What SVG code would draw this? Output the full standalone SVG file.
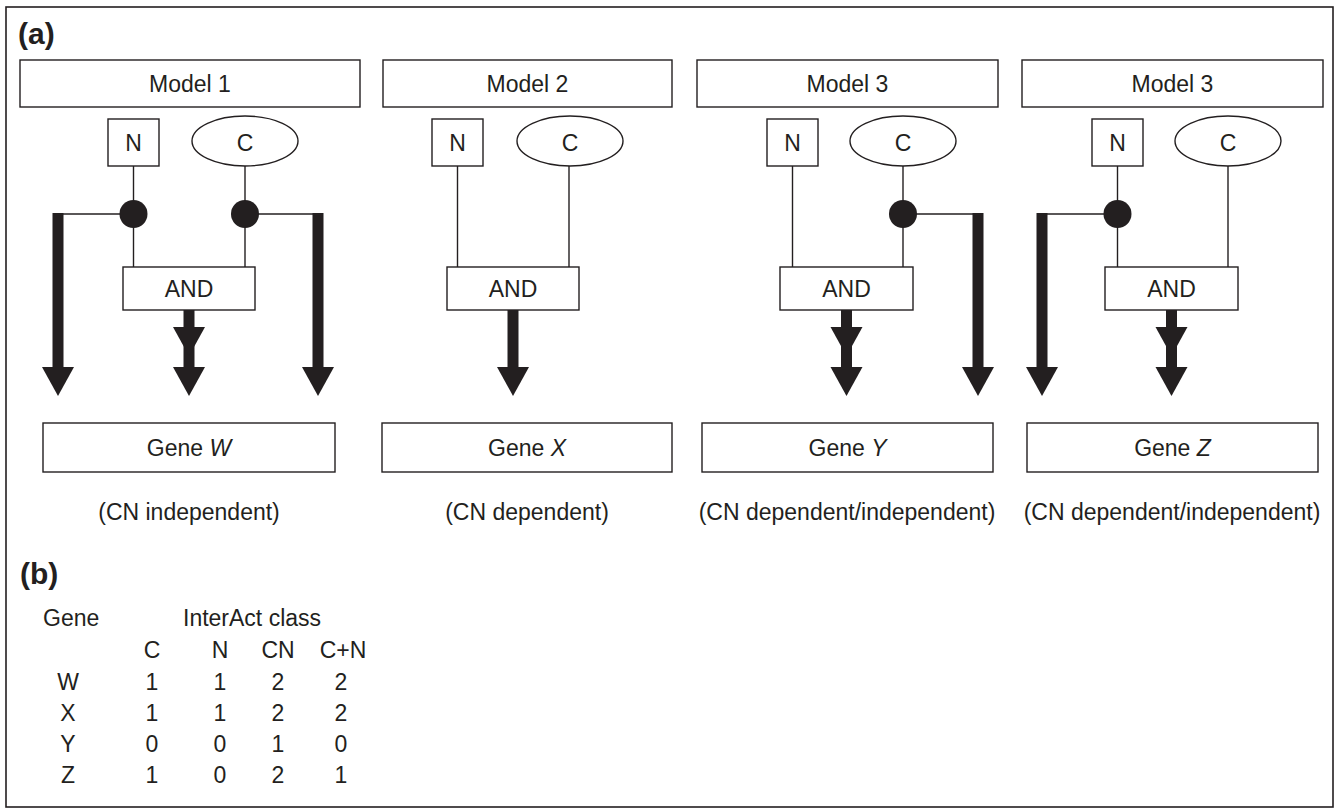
<svg xmlns="http://www.w3.org/2000/svg" width="1336" height="810" viewBox="0 0 1336 810">
<defs>
<style>
.frame{fill:#fff;stroke:#231f20;stroke-width:1.6}
.box{fill:#fff;stroke:#231f20;stroke-width:1.4}
.thin{fill:none;stroke:#231f20;stroke-width:1.4}
.arr{fill:none;stroke:#231f20;stroke-width:11;marker-end:url(#ah)}
.arr2{fill:none;stroke:#231f20;stroke-width:11;marker-mid:url(#ah);marker-end:url(#ah)}
.dot{fill:#231f20}
text{font-family:"Liberation Sans",Arial,Helvetica,sans-serif;font-size:23px;fill:#231f20}
.c{text-anchor:middle}
.lbl{font-weight:bold;font-size:30px}
</style>
<marker id="ah" markerUnits="userSpaceOnUse" markerWidth="32" markerHeight="29" refX="15.5" refY="0" orient="auto" viewBox="0 0 31 28" overflow="visible">
<path d="M0,0 L31,0 L15.5,28 Z" fill="#231f20" transform="rotate(-90 15.5 0)"/>
</marker>
</defs>
<rect class="frame" x="6" y="7" width="1327" height="800"/>
<text class="lbl" x="18" y="44">(a)</text>

<g id="panel1">
<g id="model1"><rect class="box" x="20" y="60" width="340" height="47"/><text class="c" x="190" y="92">Model 1</text></g>
<g id="n1"><rect class="box" x="108" y="119" width="51" height="47"/><text class="c" x="133.5" y="151">N</text></g>
<g id="c1"><ellipse class="box" cx="245" cy="141" rx="53" ry="25"/><text class="c" x="245" y="151">C</text></g>
<g id="and1"><rect class="box" x="123" y="267" width="132" height="43"/><text class="c" x="189" y="297">AND</text></g>
<g id="geneW"><rect class="box" x="43" y="423" width="292" height="49"/><text class="c" x="189" y="456">Gene <tspan font-style="italic">W</tspan></text></g>
<text id="capW" class="c" x="189" y="520">(CN independent)</text>
</g>

<g id="panel2">
<g id="model2"><rect class="box" x="383" y="60" width="289" height="47"/><text class="c" x="527.5" y="92">Model 2</text></g>
<g id="n2"><rect class="box" x="432" y="119" width="51" height="47"/><text class="c" x="457.5" y="151">N</text></g>
<g id="c2"><ellipse class="box" cx="570" cy="141" rx="53" ry="25"/><text class="c" x="570" y="151">C</text></g>
<g id="and2"><rect class="box" x="447" y="267" width="132" height="43"/><text class="c" x="513" y="297">AND</text></g>
<g id="geneX"><rect class="box" x="382" y="423" width="290" height="49"/><text class="c" x="527" y="456">Gene <tspan font-style="italic">X</tspan></text></g>
<text id="capX" class="c" x="527" y="520">(CN dependent)</text>
</g>

<g id="panel3">
<g id="model3a"><rect class="box" x="697" y="60" width="301" height="47"/><text class="c" x="847.5" y="92">Model 3</text></g>
<g id="n3"><rect class="box" x="767" y="119" width="51" height="47"/><text class="c" x="792.5" y="151">N</text></g>
<g id="c3"><ellipse class="box" cx="903" cy="141" rx="53" ry="25"/><text class="c" x="903" y="151">C</text></g>
<g id="and3"><rect class="box" x="780" y="267" width="133" height="43"/><text class="c" x="846.5" y="297">AND</text></g>
<g id="geneY"><rect class="box" x="702" y="423" width="291" height="49"/><text class="c" x="847.5" y="456">Gene <tspan font-style="italic">Y</tspan></text></g>
<text id="capY" class="c" x="847" y="520">(CN dependent/independent)</text>
</g>

<g id="panel4">
<g id="model3b"><rect class="box" x="1022" y="60" width="301" height="47"/><text class="c" x="1172.5" y="92">Model 3</text></g>
<g id="n4"><rect class="box" x="1092" y="119" width="51" height="47"/><text class="c" x="1117.5" y="151">N</text></g>
<g id="c4"><ellipse class="box" cx="1228" cy="141" rx="53" ry="25"/><text class="c" x="1228" y="151">C</text></g>
<g id="and4"><rect class="box" x="1105" y="267" width="133" height="43"/><text class="c" x="1171.5" y="297">AND</text></g>
<g id="geneZ"><rect class="box" x="1027" y="423" width="291" height="49"/><text class="c" x="1172.5" y="456">Gene <tspan font-style="italic">Z</tspan></text></g>
<text id="capZ" class="c" x="1172" y="520">(CN dependent/independent)</text>
</g>

<g id="connectors">
<line class="thin" x1="133.5" y1="166" x2="133.5" y2="267"/>
<line class="thin" x1="245" y1="166" x2="245" y2="267"/>
<line class="thin" x1="58" y1="214" x2="133.5" y2="214"/>
<line class="thin" x1="245" y1="214" x2="318" y2="214"/>
<path class="arr" d="M58,213 L58,367"/>
<path class="arr" d="M318,213 L318,367"/>
<path class="arr2" d="M189,310 L189,327 L189,367"/>
<circle class="dot" cx="133.5" cy="214" r="14"/>
<circle class="dot" cx="245" cy="214" r="14"/>
<line class="thin" x1="457.5" y1="166" x2="457.5" y2="267"/>
<line class="thin" x1="569" y1="166" x2="569" y2="267"/>
<path class="arr" d="M513,310 L513,367"/>
<line class="thin" x1="792.5" y1="166" x2="792.5" y2="267"/>
<line class="thin" x1="903" y1="166" x2="903" y2="267"/>
<line class="thin" x1="903" y1="214" x2="978" y2="214"/>
<path class="arr" d="M978,213 L978,367"/>
<path class="arr2" d="M846.5,310 L846.5,327 L846.5,367"/>
<circle class="dot" cx="903" cy="214" r="14"/>
<line class="thin" x1="1117.5" y1="166" x2="1117.5" y2="267"/>
<line class="thin" x1="1228" y1="166" x2="1228" y2="267"/>
<line class="thin" x1="1042" y1="214" x2="1117.5" y2="214"/>
<path class="arr" d="M1042,213 L1042,367"/>
<path class="arr2" d="M1171.5,310 L1171.5,327 L1171.5,367"/>
<circle class="dot" cx="1117.5" cy="214" r="14"/>
</g>

<g id="table">
<text class="lbl" x="20" y="584">(b)</text>
<text x="43" y="626">Gene</text>
<text x="183" y="626">InterAct class</text>
<text class="c" x="152" y="658">C</text><text class="c" x="220" y="658">N</text><text class="c" x="278" y="658">CN</text><text class="c" x="343" y="658">C+N</text>
<text class="c" x="68" y="690">W</text><text class="c" x="152" y="690">1</text><text class="c" x="220" y="690">1</text><text class="c" x="278" y="690">2</text><text class="c" x="341" y="690">2</text>
<text class="c" x="68" y="721">X</text><text class="c" x="152" y="721">1</text><text class="c" x="220" y="721">1</text><text class="c" x="278" y="721">2</text><text class="c" x="341" y="721">2</text>
<text class="c" x="68" y="752">Y</text><text class="c" x="152" y="752">0</text><text class="c" x="220" y="752">0</text><text class="c" x="278" y="752">1</text><text class="c" x="341" y="752">0</text>
<text class="c" x="68" y="783">Z</text><text class="c" x="152" y="783">1</text><text class="c" x="220" y="783">0</text><text class="c" x="278" y="783">2</text><text class="c" x="341" y="783">1</text>
</g>
</svg>
